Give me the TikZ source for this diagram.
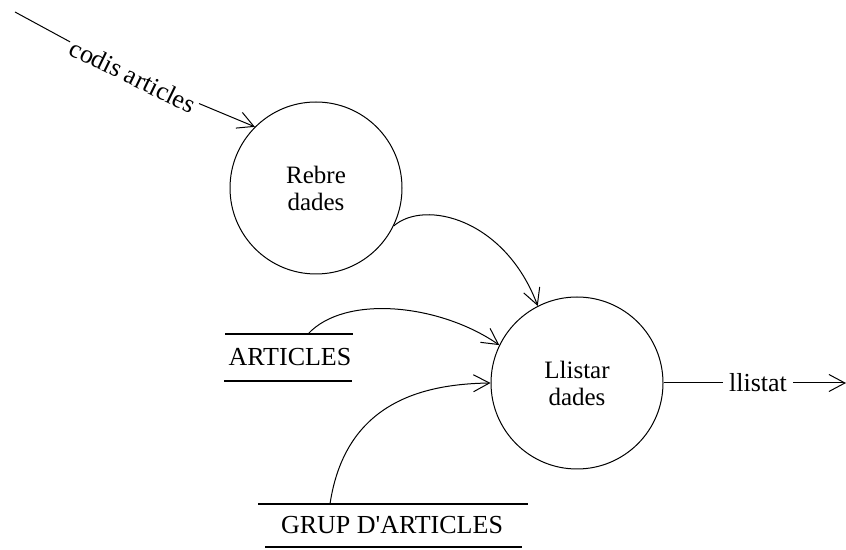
\documentclass[tikz,border=0pt]{standalone}
\usepackage{fontspec}
\setmainfont{Liberation Serif}
\usetikzlibrary{arrows.meta}
\begin{document}
\begin{tikzpicture}[x=1pt,y=1pt,
  flow/.style={line width=1pt, -{Straight Barb[length=16pt,width=17pt,line width=1pt]}},
  plain/.style={line width=1pt},
  process/.style={circle, draw, line width=1pt, minimum size=172pt, inner sep=0pt, align=center, font=\fontsize{25}{27}\selectfont},
  storeline/.style={line width=2.6pt},
  lbl/.style={inner sep=6pt, font=\fontsize{26}{28}\selectfont}]
\useasboundingbox (0,0) rectangle (846,549);

% processes
\node[process] (rebre) at (316,361) {Rebre\\dades};
\node[process] (llistar) at (577,166) {Llistar\\dades};

% data stores
\coordinate (artTL) at (225,215); \coordinate (artTR) at (353,215);
\coordinate (artBL) at (224,168); \coordinate (artBR) at (352,168);
\draw[storeline] (artTL) -- (artTR);
\draw[storeline] (artBL) -- (artBR);
\node[lbl] (articles) at (290,192) {ARTICLES};

\coordinate (grpTL) at (258,45); \coordinate (grpTR) at (528,45);
\coordinate (grpBL) at (265,2); \coordinate (grpBR) at (522,2);
\draw[storeline] (grpTL) -- (grpTR);
\draw[line width=1.6pt] (grpBL) -- (grpBR);
\node[lbl] (grup) at (392,24) {GRUP D\textquotesingle ARTICLES};

% incoming flow
\coordinate (src) at (15,537);
\node[lbl, inner sep=3pt, rotate=-26] (codis) at (133,473) {codis articles};
\draw[plain] (src) -- (codis);
\draw[flow] (codis) -- (rebre.135);

% internal flows
\coordinate (artOut) at (308,215);
\coordinate (grpOut) at (330,45);
\draw[flow] (rebre.-26) .. controls (425,350) and (505,330) .. (llistar.117);
\draw[flow] (artOut) .. controls (345,255) and (440,245) .. (llistar.154);
\draw[flow] (grpOut) .. controls (345,145) and (420,165) .. (llistar.180);

% outgoing flow
\node[lbl] (listat) at (758,166) {llistat};
\coordinate (sink) at (846,166);
\draw[plain] (llistar.east) -- (listat);
\draw[flow] (listat) -- (sink);
\end{tikzpicture}
\end{document}
